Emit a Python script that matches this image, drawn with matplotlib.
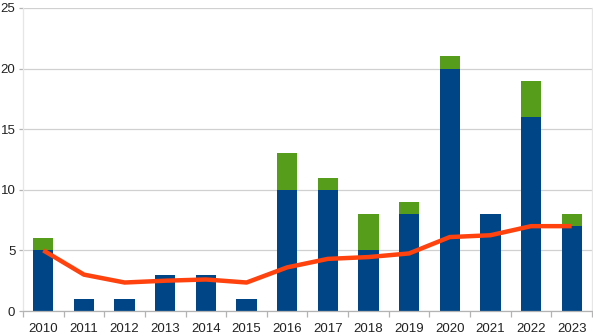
import matplotlib
matplotlib.use("Agg")
import matplotlib.pyplot as plt
import numpy as np

years = ["2010", "2011", "2012", "2013", "2014", "2015", "2016",
         "2017", "2018", "2019", "2020", "2021", "2022", "2023"]
base_counts = [5, 1, 1, 3, 3, 1, 10, 10, 5, 8, 20, 8, 16, 7]
extra_counts = [1, 0, 0, 0, 0, 0, 3, 1, 3, 1, 1, 0, 3, 1]
trend = [5.0, 3.0, 2.35, 2.5, 2.6, 2.35, 3.6, 4.3, 4.45, 4.75, 6.1, 6.25, 7.0, 7.0]

plt.rcParams['font.family'] = ['Liberation Sans', 'DejaVu Sans']

fig = plt.figure(figsize=(5.93, 3.36), dpi=100)
ax = fig.add_axes([23 / 593, 1 - 311 / 336, (592 - 23) / 593, (311 - 8) / 336])

x = np.arange(len(years))
ax.bar(x, base_counts, width=0.5, color="#004586", zorder=2)
ax.bar(x, extra_counts, width=0.5, bottom=base_counts, color="#579d1c", zorder=2)
ax.plot(x, trend, color="#ff420e", linewidth=3.2, zorder=3, solid_capstyle="butt")

ax.set_xlim(-0.5, len(years) - 0.5)
ax.set_ylim(0, 25)
ax.set_yticks([0, 5, 10, 15, 20, 25])
ax.yaxis.grid(True, color="#d0d0d0", linewidth=0.9, zorder=0)
ax.set_axisbelow(True)

ax.set_xticks(x)
ax.set_xticklabels(years)
ax.set_xticks(np.arange(-0.5, len(years), 1.0), minor=True)
ax.tick_params(axis="x", which="major", length=0, pad=9, labelsize=9.5, colors="#222222")
ax.tick_params(axis="x", which="minor", length=4, color="#b3b3b3", width=0.9)
ax.tick_params(axis="y", length=3, color="#b3b3b3", width=0.9, pad=2.5, labelsize=9.5,
               labelcolor="#222222")

for side in ["left", "right", "top"]:
    ax.spines[side].set_color("#e6e6e6")
    ax.spines[side].set_linewidth(0.9)
ax.spines["top"].set_visible(False)
ax.spines["bottom"].set_color("#b3b3b3")
ax.spines["bottom"].set_linewidth(0.9)

fig.savefig("out.png", dpi=100)
